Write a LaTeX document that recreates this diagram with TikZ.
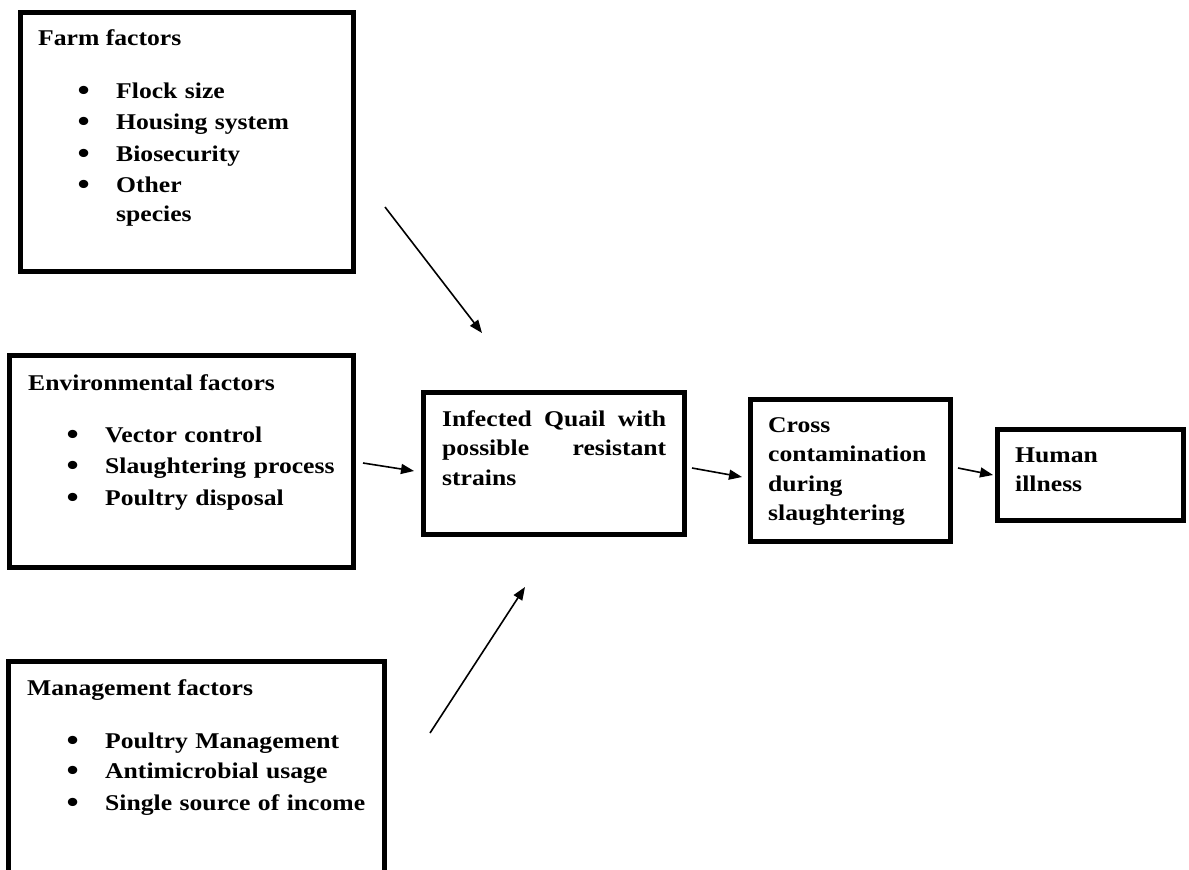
\documentclass[tikz,border=0pt]{standalone}
\usepackage{fontspec}
\setmainfont{Liberation Serif}[FakeStretch=1.14]
\usetikzlibrary{arrows.meta, positioning}

\newcommand{\bitem}[1]{\makebox[37.5pt][l]{\hspace*{-1pt}\raisebox{-2pt}{\scalebox{1.35}{\textbullet}}}#1}

\begin{document}
\begin{tikzpicture}[
    x=1pt, y=-1pt,
    font=\fontsize{22.5}{31.5}\selectfont\bfseries,
    >={Triangle[length=13pt, width=10pt]},
    % thick black frames, sized by the centre of the stroke
    frame/.style={
        rectangle, draw=black, line width=5pt,
        inner sep=0pt, fill=none,
    },
    heading/.style={anchor=base west, inner sep=0pt},
    itemlist/.style={anchor=base west, inner sep=0pt, align=left, text width=300pt},
    stage/.style={anchor=base west, inner sep=0pt, align=left,
        font=\fontsize{22.5}{29.5}\selectfont\bfseries},
    flow/.style={->, line width=1.6pt, black},
]

\path[use as bounding box, clip] (0,0) rectangle (1189,870);

% =====================================================================
% FACTOR BOXES (left column)
% =====================================================================

\node[frame, minimum width=333pt, minimum height=259pt] (farm) at (187,142) {};
\node[heading] (farmT) at (38,45) {Farm factors};
\node[itemlist] (farmL) at (78.5,98) {%
    \bitem{Flock size}\\
    \bitem{Housing system}\\
    \bitem{Biosecurity}\\
    \bitem{Other}\\[-3pt]
    \hspace*{37.5pt}species};

\node[frame, minimum width=344pt, minimum height=212pt] (env) at (181.5,461.5) {};
\node[heading] (envT) at (28,390) {Environmental factors};
\node[itemlist] (envL) at (67.5,442) {%
    \bitem{Vector control}\\
    \bitem{Slaughtering process}\\
    \bitem{Poultry disposal}};

\node[frame, minimum width=376pt, minimum height=223.5pt] (mgmt) at (196.5,773.25) {};
\node[heading] (mgmtT) at (27,695) {Management factors};
\node[itemlist] (mgmtL) at (67.5,748) {%
    \bitem{Poultry Management}\\[-1pt]
    \bitem{Antimicrobial usage}\\
    \bitem{Single source of income}};

% =====================================================================
% CHAIN: quail -> cross contamination -> human illness
% =====================================================================

\node[frame, minimum width=261pt, minimum height=142pt] (quail) at (554,463.5) {};
\node[stage, text width=224pt] (quailT) at (442,426) {%
    Infected\hfill Quail\hfill with\\
    possible\hfill resistant\\
    strains};

\node[frame, minimum width=200pt, minimum height=142pt] (cross) at (850.5,470.5) {};
\node[stage, text width=175pt] (crossT) at (768,432) {%
    Cross\\ contamination\\ during\\ slaughtering};

\node[frame, minimum width=186pt, minimum height=91pt] (human) at (1090.5,475) {};
\node[stage, text width=160pt] (humanT) at (1015,462) {Human\\ illness};

% arrow ends float in the gaps between the boxes
\coordinate (farmOut)  at (385,207);
\coordinate (farmIn)   at (482,333);
\coordinate (envOut)   at (363,463);
\coordinate (envIn)    at (414,471);
\coordinate (mgmtOut)  at (430,733);
\coordinate (mgmtIn)   at (525,587);
\coordinate (quailOut) at (692,468);
\coordinate (crossIn)  at (742,477);
\coordinate (crossOut) at (958,468);
\coordinate (humanIn)  at (993,475);

\draw[flow] (farmOut)  -- (farmIn);
\draw[flow] (envOut)   -- (envIn);
\draw[flow] (mgmtOut)  -- (mgmtIn);
\draw[flow] (quailOut) -- (crossIn);
\draw[flow] (crossOut) -- (humanIn);

\end{tikzpicture}
\end{document}
